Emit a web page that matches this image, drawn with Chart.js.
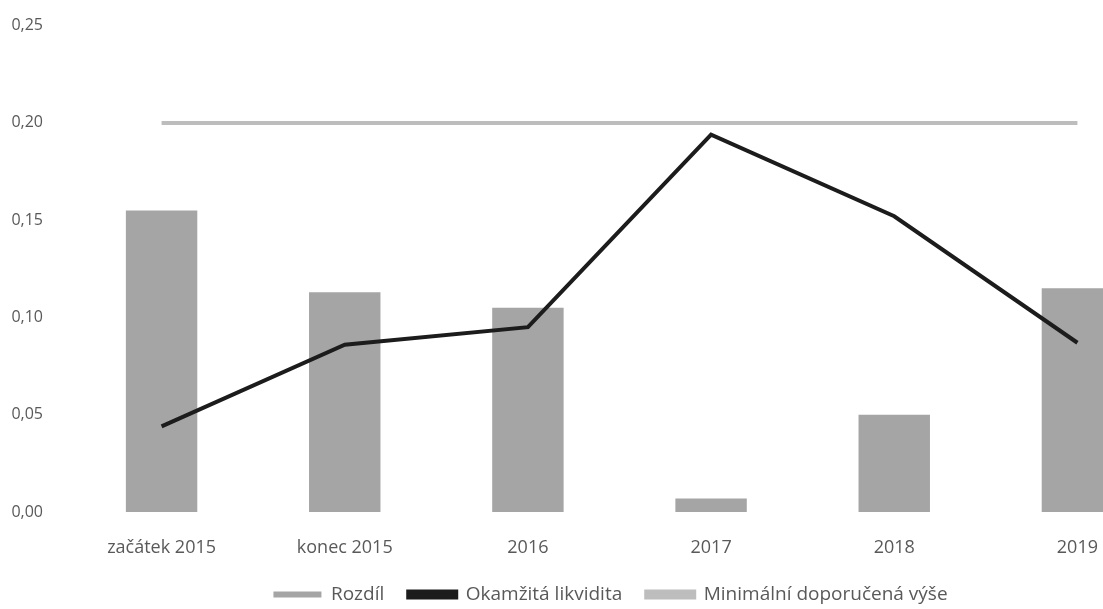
<!DOCTYPE html>
<html>
<head>
<meta charset="utf-8">
<script src="https://cdn.jsdelivr.net/npm/chart.js@4.4.0/dist/chart.umd.min.js"></script>
<style>
  html, body { margin: 0; padding: 0; background: #fff; overflow: hidden; }
  #wrap { position: relative; top: -11px; width: 1240px; height: 625px; }
</style>
</head>
<body>
<div id="wrap"><canvas id="graf"></canvas></div>
<script>
// data
var kategorie = ['začátek 2015', 'konec 2015', '2016', '2017', '2018', '2019'];
var rozdil = [0.155, 0.113, 0.105, 0.007, 0.050, 0.115];
var likvidita = [0.044, 0.086, 0.095, 0.194, 0.152, 0.087];
var minimum = [0.20, 0.20, 0.20, 0.20, 0.20, 0.20];
var yTicks = [0, 0.05, 0.10, 0.15, 0.20, 0.25];

var barvaTextu = '#595959';

var ctx = document.getElementById('graf');

var chart = new Chart(ctx, {
    type: 'bar',
    data: {
        labels: kategorie,
        datasets: [
            {
                type: 'bar',
                label: 'Rozdíl',
                data: rozdil,
                backgroundColor: '#a5a5a5',
                barPercentage: 0.39,
                categoryPercentage: 1,
                order: 3
            },
            {
                type: 'line',
                label: 'Okamžitá likvidita',
                data: likvidita,
                borderColor: '#1c1c1c',
                backgroundColor: '#1c1c1c',
                borderWidth: 4,
                pointRadius: 0,
                tension: 0,
                order: 1
            },
            {
                type: 'line',
                label: 'Minimální doporučená výše',
                data: minimum,
                borderColor: '#bdbdbd',
                backgroundColor: '#bdbdbd',
                borderWidth: 4,
                pointRadius: 0,
                tension: 0,
                order: 2
            }
        ]
    },
    options: {
        responsive: true,
        maintainAspectRatio: false,
        animation: false,
        layout: { padding: { left: 12, right: 31, top: 25, bottom: 0 } },
        plugins: {
            tooltip: { enabled: false },
            legend: {
                position: 'bottom',
                labels: {
                    boxWidth: 48,
                    boxHeight: 6,
                    padding: 24,
                    color: barvaTextu,
                    font: { family: 'Open Sans', size: 19 },
                    sort: function(a, b) { return a.datasetIndex - b.datasetIndex; }
                }
            }
        },
        scales: {
            x: {
                afterFit: function(s) { s.height = 49; },
                grid: { display: false, drawTicks: false },
                border: { display: false },
                ticks: { color: barvaTextu, font: { family: 'Open Sans', size: 18 }, padding: 25, maxRotation: 0 }
            },
            y: {
                min: 0,
                max: 0.25,
                afterBuildTicks: function(s) { s.ticks = yTicks.map(function(v) { return { value: v }; }); },
                afterFit: function(s) { s.width = 58; },
                grid: { display: false, drawTicks: false },
                border: { display: false },
                ticks: {
                    color: barvaTextu,
                    font: { family: 'Open Sans', size: 16 },
                    padding: 27,
                    callback: function(v) { return v.toFixed(2).replace('.', ','); }
                }
            },
            prava: {
                position: 'right',
                grid: { display: false },
                border: { display: false },
                ticks: { display: false },
                afterFit: function(s) { s.width = 40; }
            }
        }
    }
});
</script>
</body>
</html>
